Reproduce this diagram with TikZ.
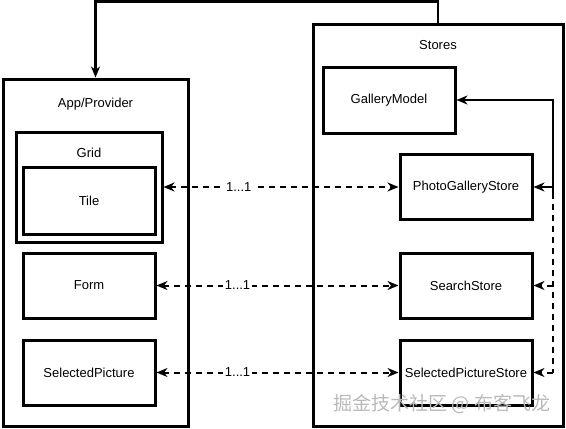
\documentclass[tikz,border=0pt]{standalone}
\usepackage{fontspec}
\setmainfont{Liberation Sans}
\newfontfamily\cjk{Noto Sans CJK SC}
\usetikzlibrary{arrows.meta}
\begin{document}
\begin{tikzpicture}[x=1pt,y=-1pt,
  box/.style={draw, line width=3pt, rectangle, inner sep=0pt, font=\fontsize{13}{15}\selectfont},
  smallbox/.style={box, minimum width=132pt, minimum height=66pt},
  lbl/.style={font=\fontsize{13}{15}\selectfont, inner sep=1pt},
  endtip/.style={-{Stealth[length=11pt,width=9pt,inset=3.5pt]}},
  bothtips/.style={{Stealth[length=11pt,width=9pt,inset=3.5pt]}-{Stealth[length=11pt,width=9pt,inset=3.5pt]}},
  link/.style={line width=2pt, dash pattern=on 6pt off 5pt},
  solidlink/.style={line width=2pt},
  mult/.style={lbl, fill=white, inner sep=1.5pt}
]
\useasboundingbox (0,0) rectangle (566,429);

% left container
\node[box, minimum width=185pt, minimum height=347pt] (app) at (95.5,252.5) {};
\node[lbl] (appT) at (95.5,104) {App/Provider};
\node[box, minimum width=146pt, minimum height=110pt] (grid) at (89,187) {};
\node[lbl] (gridT) at (89,153) {Grid};
\node[box, minimum width=132pt, minimum height=67pt] (tile) at (89,200.5) {Tile};
\node[smallbox, minimum height=65pt] (form) at (89,285.5) {Form};
\node[smallbox, minimum height=65pt] (selpic) at (89,372.5) {SelectedPicture};

% right container
\node[box, minimum width=250pt, minimum height=402pt] (stores) at (438,225) {};
\node[lbl] (storesT) at (438,45) {Stores};
\node[smallbox] (gallery) at (389,100) {GalleryModel};
\node[smallbox, minimum height=65pt] (photo) at (466,187) {PhotoGalleryStore};
\node[smallbox, minimum height=65pt] (search) at (466,285.5) {SearchStore};
\node[smallbox, minimum height=65pt] (selstore) at (466,372.5) {SelectedPictureStore};

% top connector
\coordinate (t1) at (438,1.5);
\coordinate (t2) at (95.5,1.5);
\draw[line width=2.5pt, endtip] (stores.north) -- (t1) -- (t2) -- (app.north);

% dashed 1...1 connectors
\draw[link, bothtips] (grid.east) -- node[mult, pos=0.32] {1...1} (photo.west);
\draw[link, bothtips] (form.east) -- node[mult, pos=0.335] {1...1} (search.west);
\draw[link, bothtips] (selpic.east) -- node[mult, pos=0.335] {1...1} (selstore.west);

% right side connectors
\coordinate (g1) at (553,100);
\coordinate (p1) at (553,187);
\coordinate (b1) at (553,193);
\coordinate (s1) at (553,285.5);
\coordinate (q1) at (553,372.5);
\draw[solidlink, endtip] (b1) -- (g1) -- (gallery.east);
\draw[solidlink, endtip] (p1) -- (photo.east);
\draw[link] (b1) -- (q1);
\draw[link, endtip] (s1) -- (search.east);
\draw[link, endtip] (q1) -- (selstore.east);

% watermark
\node[text=gray!55, font=\cjk\fontsize{19}{21}\selectfont] (wm) at (442,404) {掘金技术社区 @ 布客飞龙};
\end{tikzpicture}
\end{document}
